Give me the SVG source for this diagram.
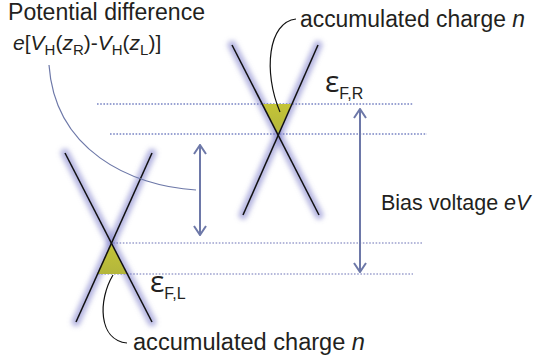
<svg xmlns="http://www.w3.org/2000/svg" width="535" height="363" viewBox="0 0 535 363">
<style>
text{font-family:"Liberation Sans","Open Sans",sans-serif;fill:#231f20;font-size:23px}
.it{font-style:italic}
.sub{font-size:15px}
.eps{font-family:"Open Sans","DejaVu Sans",sans-serif;font-size:30px}
.glow{stroke:#7a7ac8;stroke-width:9;stroke-linecap:round;fill:none;opacity:0.55}
.band{stroke:#111;stroke-width:1.5;fill:none}
.dotA{stroke:#3546a6;stroke-width:1.2;stroke-dasharray:1.6 1.6}
.dotB{stroke:#6d73b6;stroke-width:1.2;stroke-dasharray:1.6 1.6}
.arr{stroke:#6d78a8;stroke-width:2;fill:none;marker-start:url(#ah);marker-end:url(#ah)}
.lead{fill:none;stroke-width:1.2}
</style>
<defs>
<filter id="blur" x="-50%" y="-20%" width="200%" height="140%"><feGaussianBlur stdDeviation="2.6"/></filter>
<marker id="ah" viewBox="-11 -8 12 16" refX="0" refY="0" markerWidth="12" markerHeight="16" markerUnits="userSpaceOnUse" orient="auto-start-reverse">
<path d="M-9,-6 L0,0 L-9,6" fill="none" stroke="#6d78a8" stroke-width="2"/>
</marker>
<linearGradient id="yel" x1="0" y1="0" x2="0" y2="1">
<stop offset="0" stop-color="#c4c437"/><stop offset="1" stop-color="#b3b63c"/>
</linearGradient>
</defs>

<g id="levels">
<line class="dotA" x1="97" y1="104" x2="413" y2="104"/>
<line class="dotA" x1="110" y1="134" x2="427" y2="134"/>
<line class="dotB" x1="110" y1="243" x2="423" y2="243"/>
<line class="dotB" x1="98" y1="274" x2="413" y2="274"/>
</g>

<g id="cone-right">
<g filter="url(#blur)">
<line class="glow" x1="232" y1="45" x2="319" y2="215"/>
<line class="glow" x1="318" y1="45" x2="243" y2="215"/>
</g>
<polygon points="262.5,104 291.5,104 278,134" fill="url(#yel)"/>
<line class="band" x1="232" y1="45" x2="319" y2="215"/>
<line class="band" x1="318" y1="45" x2="243" y2="215"/>
</g>

<g id="cone-left">
<g filter="url(#blur)">
<line class="glow" x1="65" y1="153" x2="152" y2="322"/>
<line class="glow" x1="152" y1="153" x2="76" y2="322"/>
</g>
<polygon points="111,243 97,274 127,274" fill="url(#yel)"/>
<line class="band" x1="65" y1="153" x2="152" y2="322"/>
<line class="band" x1="152" y1="153" x2="76" y2="322"/>
</g>

<g id="connectors">
<line class="arr" x1="200" y1="145" x2="200" y2="235"/>
<line class="arr" x1="360" y1="109" x2="360" y2="272"/>
<path class="lead" stroke="#6d78a8" d="M49,65 C55,150 130,186 196,190"/>
<path class="lead" stroke="#111" d="M296,19 C268,22 263,72 280,112"/>
<path class="lead" stroke="#111" d="M113,275 C98,300 98,340 127,343"/>
</g>

<g id="label-potential">
<text x="8" y="20" textLength="197" lengthAdjust="spacingAndGlyphs">Potential difference</text>
<text x="13" y="50" style="font-size:21px"><tspan class="it">e</tspan>[<tspan class="it">V</tspan><tspan class="sub" dy="5">H</tspan><tspan dy="-5">(</tspan><tspan class="it">z</tspan><tspan class="sub" dy="5">R</tspan><tspan dy="-5">)-</tspan><tspan class="it">V</tspan><tspan class="sub" dy="5">H</tspan><tspan dy="-5">(</tspan><tspan class="it">z</tspan><tspan class="sub" dy="5">L</tspan><tspan dy="-5">)]</tspan></text>
</g>

<g id="label-charge-top">
<text x="300" y="27" textLength="225" lengthAdjust="spacingAndGlyphs">accumulated charge <tspan class="it">n</tspan></text>
</g>

<g id="label-efr">
<text x="325" y="92"><tspan class="eps">ε</tspan><tspan style="font-size:16px" dy="7">F,R</tspan></text>
</g>

<g id="label-efl">
<text x="150" y="292"><tspan class="eps">ε</tspan><tspan style="font-size:16px" dy="7">F,L</tspan></text>
</g>

<g id="label-bias">
<text x="381" y="210" style="font-size:21.5px">Bias voltage <tspan class="it">eV</tspan></text>
</g>

<g id="label-charge-bottom">
<text x="133" y="350" textLength="232" lengthAdjust="spacingAndGlyphs">accumulated charge  <tspan class="it">n</tspan></text>
</g>
</svg>
